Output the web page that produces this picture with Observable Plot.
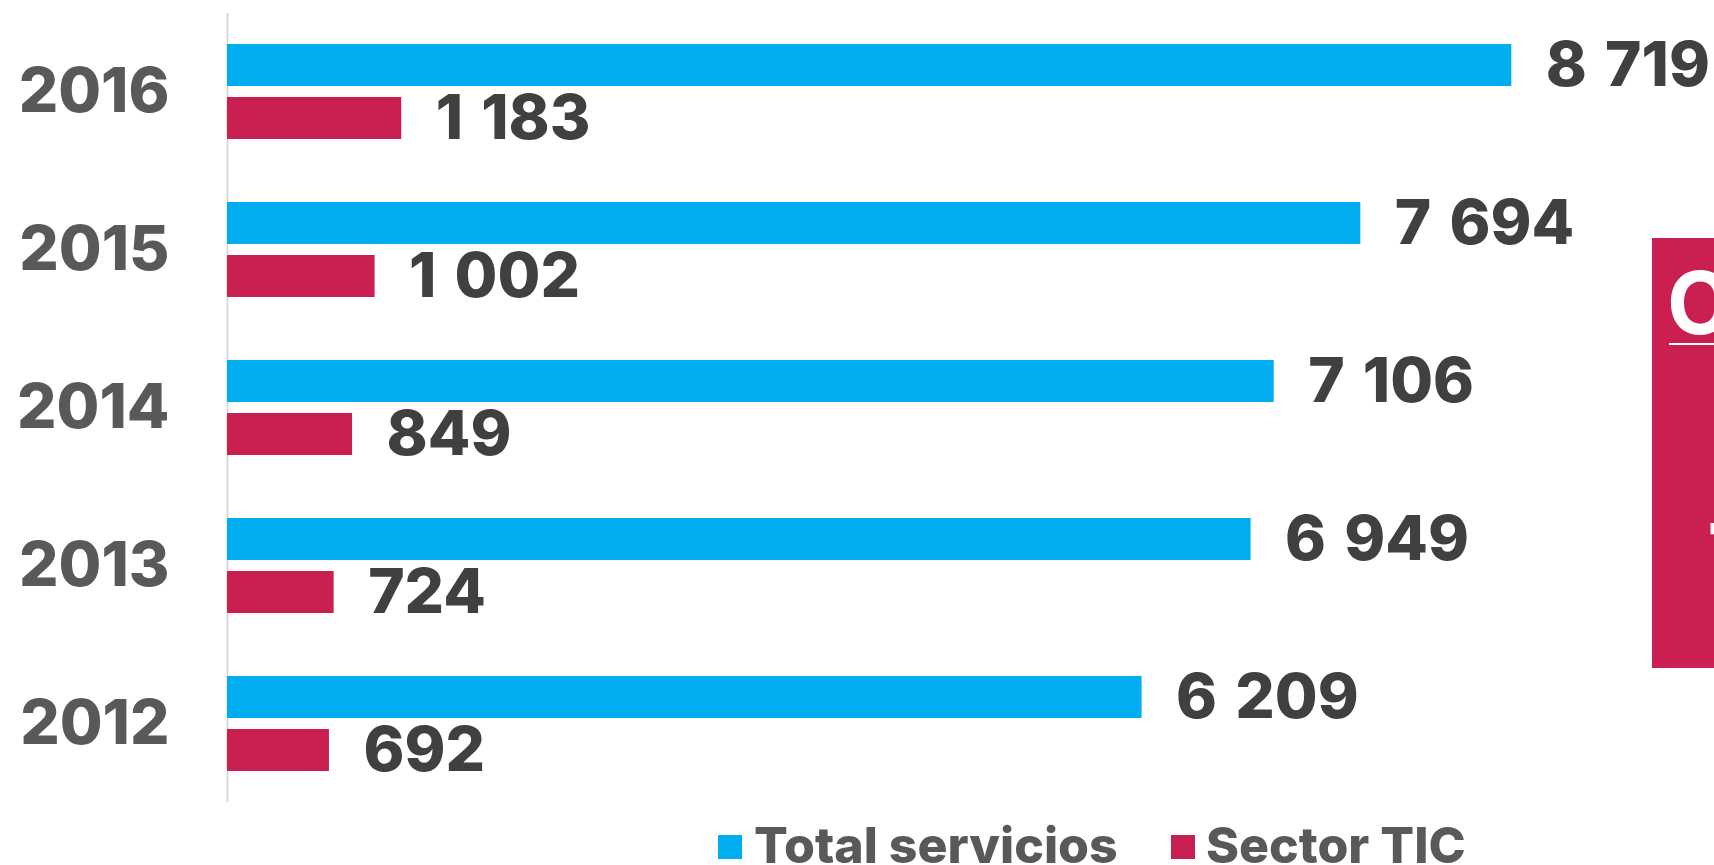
<!DOCTYPE html>
<html>
<head>
<meta charset="utf-8">
<script src="https://cdn.jsdelivr.net/npm/d3@7"></script>
<script src="https://cdn.jsdelivr.net/npm/@observablehq/plot@0.6"></script>
<style>
  html, body { margin: 0; padding: 0; background: #ffffff; }
  body { width: 1714px; height: 865px; overflow: hidden; position: relative; font-family: Inter, "Open Sans", sans-serif; }
  #chart { position: absolute; left: 0; top: 0; }
  .leg-sw { position: absolute; width: 24px; height: 24px; top: 835px; }
  .leg-tx { position: absolute; top: 820px; font-size: 50px; line-height: 50px; font-weight: 800; color: #595959; white-space: nowrap; }
  #box { position: absolute; left: 1652px; top: 238px; width: 62px; height: 430px; background: #CA1F51; overflow: hidden; }
  #box .big { position: absolute; left: 15px; top: 22px; font-size: 86px; line-height: 86px; font-weight: 700; color: #fff; white-space: nowrap; }
  #box .line { position: absolute; left: 17px; top: 105px; width: 200px; height: 2px; background: #fff; }
  #box .num { position: absolute; left: 56px; top: 274px; font-size: 80px; line-height: 80px; font-weight: 800; color: #fff; white-space: nowrap; }
</style>
</head>
<body>
<div id="chart"></div>
<div id="legend"></div>
<div id="box"><div class="big">Crecimiento</div><div class="line"></div><div class="num">TIC</div></div>
<script>
const years = ["2016", "2015", "2014", "2013", "2012"];
const seriesNames = ["Total servicios", "Sector TIC"];
const totalServicios = [8719, 7694, 7106, 6949, 6209];
const sectorTIC = [1183, 1002, 849, 724, 692];
const seriesColors = ["#00AEEF", "#CA1F51"];

const fmt = d3.formatLocale({decimal: ",", thousands: "\u00a0\u200a", grouping: [3], currency: ["", " €"]}).format(",d");

const totalData = years.map((y, i) => ({year: y, series: seriesNames[0], value: totalServicios[i]}));
const ticData = years.map((y, i) => ({year: y, series: seriesNames[1], value: sectorTIC[i]}));

const valueText = {fontSize: 62, fontWeight: 800, fill: "#404040", textAnchor: "start", dx: 34};

const plot = Plot.plot({
  width: 1714,
  height: 815,
  marginLeft: 227,
  marginRight: 14,
  marginTop: 13,
  marginBottom: 13,
  style: {fontFamily: "Inter, 'Open Sans', sans-serif", background: "transparent", overflow: "visible"},
  x: {domain: [0, 10000], axis: null},
  y: {domain: years, axis: null, paddingInner: 0.4, paddingOuter: 0.19},
  color: {domain: seriesNames, range: seriesColors},
  marks: [
    Plot.ruleX([0], {stroke: "#d9d9d9", strokeWidth: 2}),
    Plot.barX(totalData, {x: "value", y: "year", fill: "series", insetBottom: 53}),
    Plot.barX(ticData, {x: "value", y: "year", fill: "series", insetTop: 53}),
    Plot.text(totalData, {x: "value", y: "year", text: d => fmt(d.value), dy: -25.5, ...valueText}),
    Plot.text(ticData, {x: "value", y: "year", text: d => fmt(d.value), dy: 27, ...valueText}),
    Plot.text(years, {y: d => d, text: d => d, frameAnchor: "left", textAnchor: "end", dx: -58, fontSize: 62, fontWeight: 800, fill: "#595959"})
  ]
});
document.getElementById("chart").appendChild(plot);

// legend
const legend = document.getElementById("legend");
const legPos = [{sw: 718, tx: 754}, {sw: 1171, tx: 1206}];
seriesNames.forEach((name, i) => {
  const sw = document.createElement("div");
  sw.className = "leg-sw";
  sw.style.left = legPos[i].sw + "px";
  sw.style.background = seriesColors[i];
  legend.appendChild(sw);
  const tx = document.createElement("div");
  tx.className = "leg-tx";
  tx.style.left = legPos[i].tx + "px";
  tx.textContent = name;
  legend.appendChild(tx);
});
</script>
</body>
</html>
